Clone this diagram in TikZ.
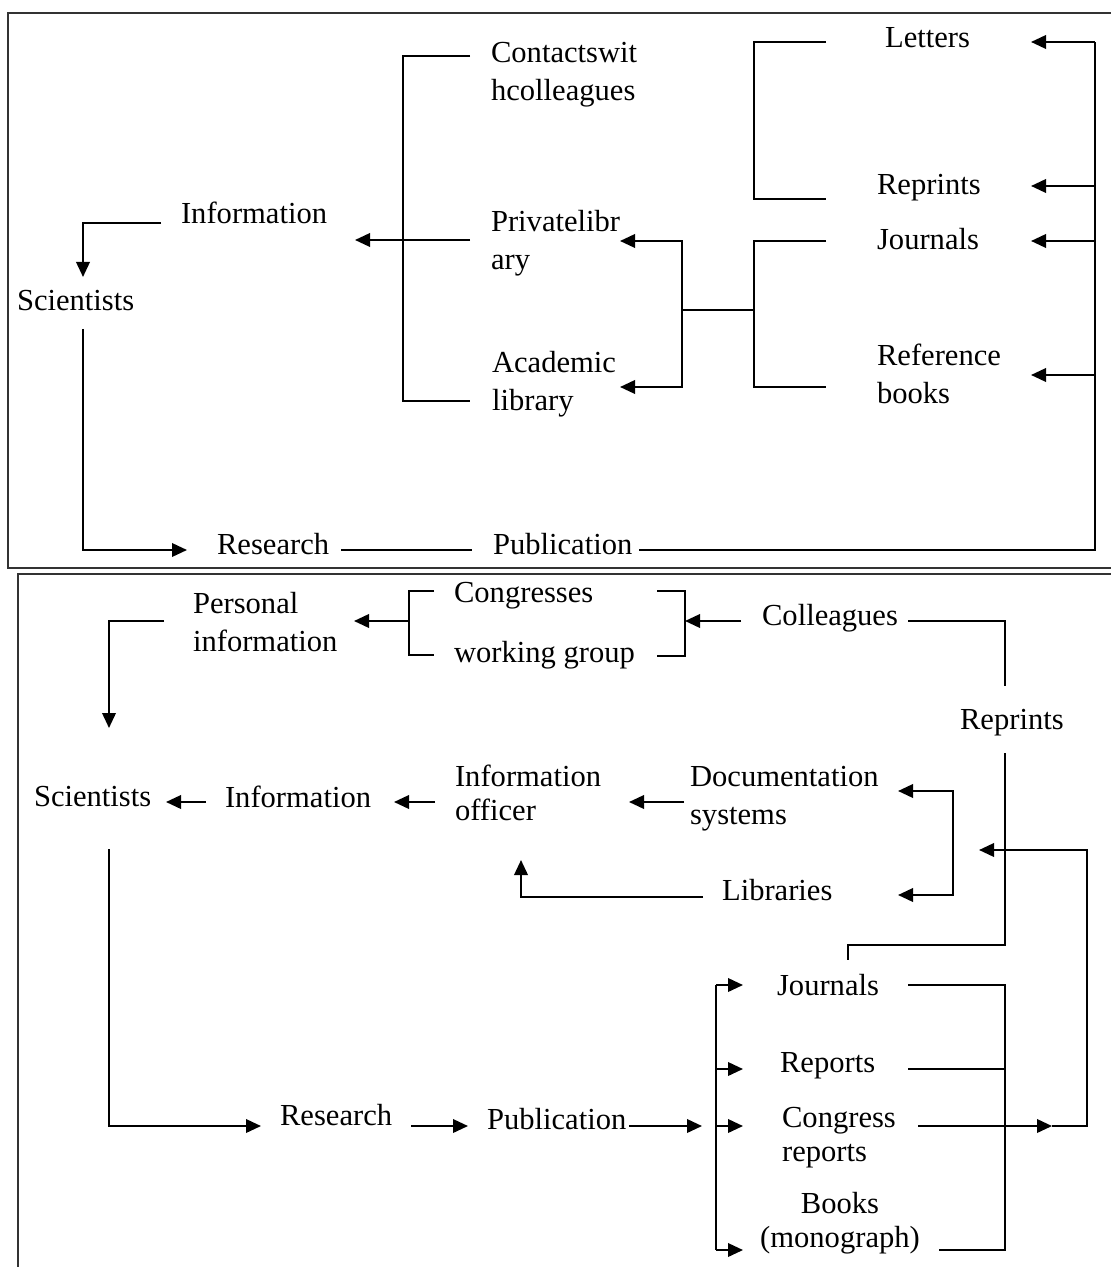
\documentclass[tikz,border=0pt]{standalone}
\usepackage{fontspec}
\setmainfont{Liberation Serif}
\usetikzlibrary{arrows.meta}
\newcommand\figfont{\fontsize{8.7}{10.9}\selectfont}
\newcommand\figfonttight{\fontsize{8.7}{9.7}\selectfont}

\begin{document}
\begin{tikzpicture}[x=0.1mm,y=-0.1mm,line width=0.6pt,
  every node/.style={font=\figfont,inner sep=0pt,anchor=west,align=left},
  tight/.style={font=\figfonttight},
  arr/.style={-{Triangle[length=1.5mm,width=1.35mm]}},
  panel/.style={line width=0.8pt,black!80}]
\useasboundingbox (0,0) rectangle (1110,1267);

% ---------------- upper panel ----------------
\draw[panel] (1130,13) -| (8,568) -- (1130,568);
\node (cont) at (490,75) {Contactswit\\hcolleagues};
\node (priv) at (490,243) {Privatelibr\\ary};
\node (acad) at (491,384) {Academic\\library};
\node (infoA) at (180,213) {Information};
\node (sciA) at (16,301) {Scientists};
\node (resA) at (216,544) {Research};
\node (pubA) at (492,544) {Publication};
\node (lett) at (884,38) {Letters};
\node (reprA) at (876,188) {Reprints};
\node (jourA) at (876,239) {Journals};
\node (refb) at (876,374) {Reference\\books};

\coordinate (lpA) at (682,310);   % joint of the two libraries
\coordinate (rgA) at (1095,42);   % top of the return line
% left side
\draw[arr] (161,223) -| (83,277);
\draw[arr] (83,329) |- (187,550);
\draw (341,550) -- (472,550);
\draw (470,56) -| (403,401) -- (470,401);
\draw[arr] (470,240) -- (355,240);
% libraries and sources
\draw[arr] (lpA) |- (620,241);
\draw[arr] (lpA) |- (620,387);
\draw (lpA) -- (754,310);
\draw (826,42) -| (754,199) -- (826,199);
\draw (826,241) -| (754,387) -- (826,387);
% return line from publication
\draw (639,550) -| (rgA);
\foreach \y in {42,186,241,375}
  \draw[arr] (1095,\y) -- (1031,\y);

% ---------------- lower panel ----------------
\draw[panel] (1130,574) -| (18,1290);
\node (pers) at (192,622) {Personal\\information};
\node (cong) at (453,596) {Congresses};
\node (work) at (453,655) {working group};
\node (coll) at (761,618) {Colleagues};
\node (reprB) at (959,723) {Reprints};
\node (sciB) at (33,797) {Scientists};
\node (infoB) at (224,797) {Information};
\node[tight] (offi) at (454,793) {Information\\officer};
\node (docu) at (689,799) {Documentation\\systems};
\node (libr) at (721,890) {Libraries};
\node (resB) at (279,1115) {Research};
\node (pubB) at (486,1119) {Publication};
\node (jourB) at (776,985) {Journals};
\node (repo) at (779,1066) {Reports};
\node[tight] (conr) at (781,1138) {Congress\\reports};
\node[tight,anchor=center,align=center] (book) at (840,1223) {Books\\(monograph)};

\coordinate (dlB) at (953,843);   % joint of documentation and libraries
% personal information
\draw[arr] (164,621) -| (109,728);
\draw (434,591) -| (409,655) -- (434,655);
\draw[arr] (409,621) -- (354,621);
\draw (657,591) -| (685,656) -- (657,656);
\draw[arr] (741,621) -- (685,621);
\draw (908,621) -| (1005,686);
\draw (1005,753) |- (848,945) -- (848,960);
% information chain
\draw[arr] (206,802) -- (166,802);
\draw[arr] (435,802) -- (394,802);
\draw[arr] (684,802) -- (629,802);
\draw[arr] (dlB) |- (898,791);
\draw[arr] (dlB) |- (898,895);
\draw[arr] (703,897) -| (521,860);
% research and publication
\draw[arr] (109,849) |- (261,1126);
\draw[arr] (411,1126) -- (468,1126);
\draw[arr] (629,1126) -- (702,1126);
\draw (716,985) -- (716,1250);
\foreach \y in {985,1069,1126,1250}
  \draw[arr] (716,\y) -- (743,\y);
\draw (908,985) -| (1005,1250) -- (939,1250);
\draw (908,1069) -- (1005,1069);
\draw[arr] (918,1126) -- (1052,1126);
\draw[arr] (1052,1126) -| (1087,850) -- (979,850);
\end{tikzpicture}
\end{document}
